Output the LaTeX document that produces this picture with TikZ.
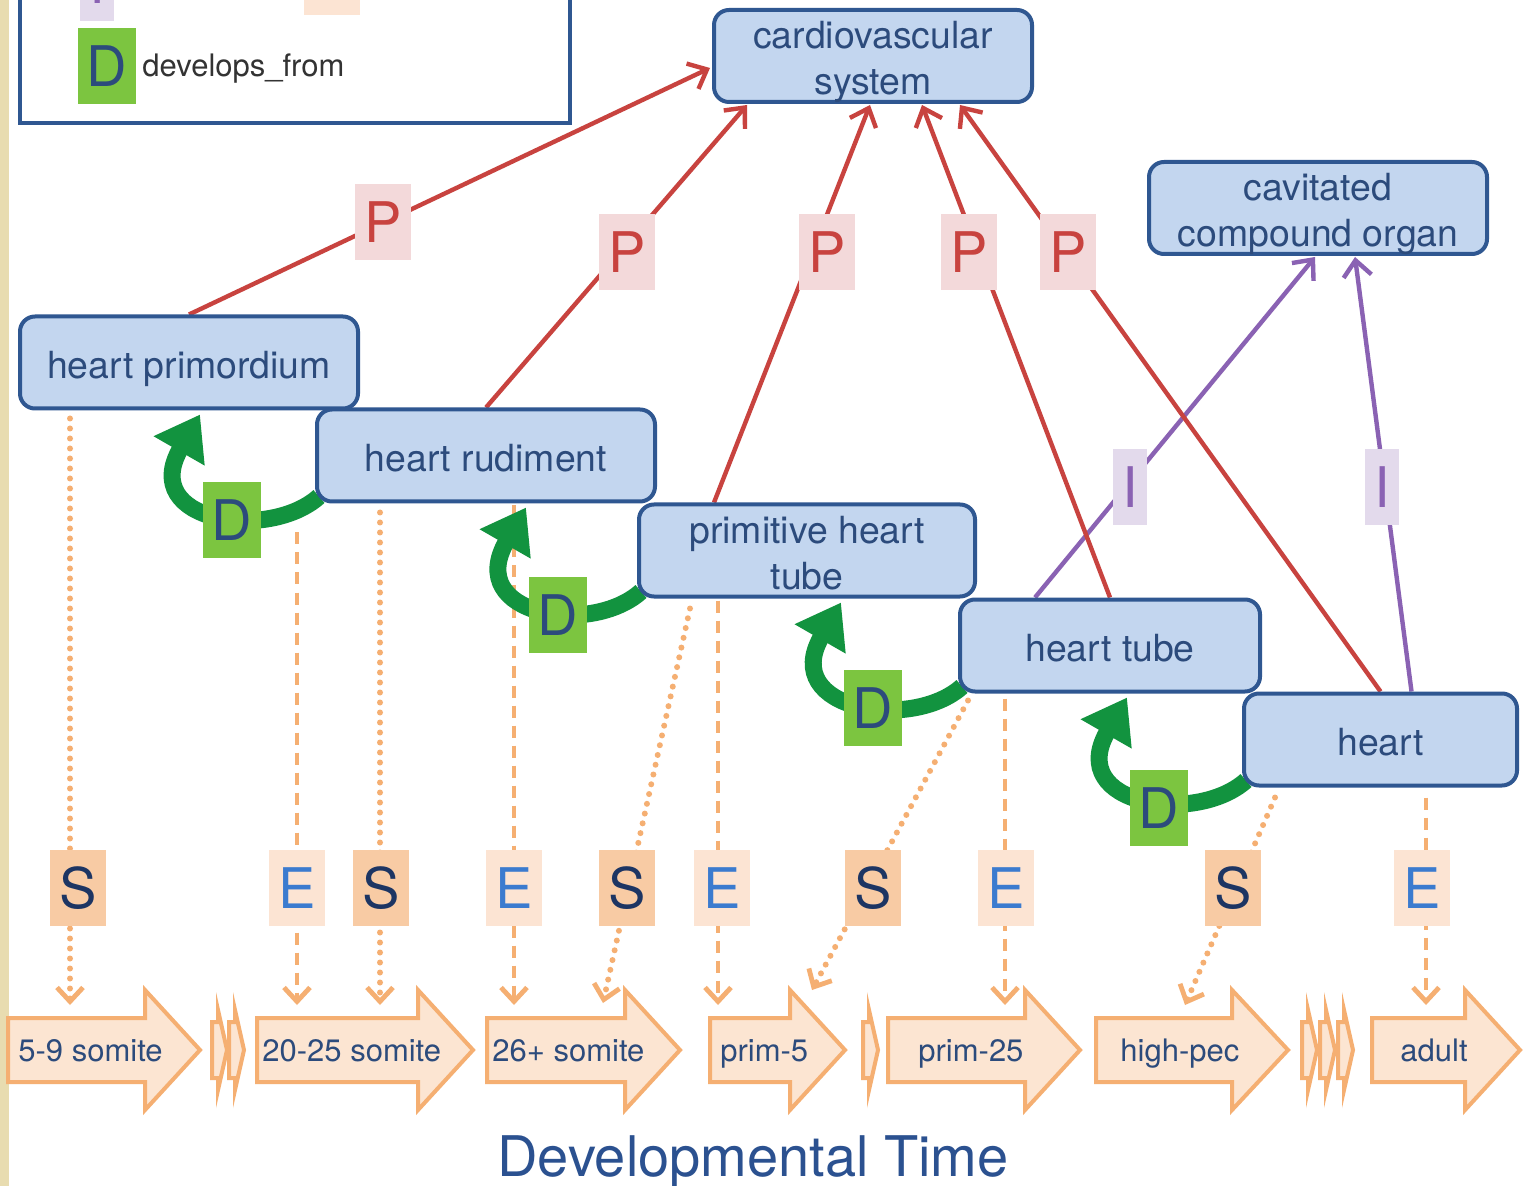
\documentclass[tikz,border=0pt]{standalone}
\usepackage{fontspec}
\setmainfont{TeX Gyre Heros}
\usetikzlibrary{arrows.meta,calc}

% palette
\definecolor{nodefill}{HTML}{C3D6EF}
\definecolor{nodeedge}{HTML}{2F5791}
\definecolor{nodetext}{HTML}{2C4B7C}
\definecolor{partred}{HTML}{C8433F}
\definecolor{partfill}{HTML}{F3D9DA}
\definecolor{isapurple}{HTML}{8A62B3}
\definecolor{isafill}{HTML}{E3DAEC}
\definecolor{devgreen}{HTML}{12933F}
\definecolor{devfill}{HTML}{7CC540}
\definecolor{stageorange}{HTML}{F5AF72}
\definecolor{stagefill}{HTML}{FCE5D2}
\definecolor{startfill}{HTML}{F8CBA4}
\definecolor{endfill}{HTML}{FCE4D3}
\definecolor{endtext}{HTML}{3B7BCF}
\definecolor{darknavy}{HTML}{1D3563}
\definecolor{titleblue}{HTML}{2B5190}
\definecolor{legendtext}{HTML}{333333}
\definecolor{parchment}{HTML}{E8DCB0}

\pgfdeclarelayer{bg}
\pgfdeclarelayer{stages}
\pgfdeclarelayer{edges}
\pgfdeclarelayer{arcs}
\pgfdeclarelayer{tags}
\pgfsetlayers{bg,stages,edges,arcs,main,tags}

\tikzset{
  termbox/.style={draw=nodeedge, line width=2pt, fill=nodefill, rounded corners=7.5pt,
    text=nodetext, font=\fontsize{18.7}{23}\selectfont, align=center,
    minimum height=46pt, inner sep=0pt, text height=16.4pt, text depth=0pt},
  twoline/.style={text height=38.5pt, text depth=0pt},
  reltag/.style={inner xsep=4.5pt, inner ysep=0pt, minimum height=38pt,
    font=\fontsize{28}{30}\selectfont},
  ptag/.style={reltag, fill=partfill, text=partred},
  itag/.style={reltag, fill=isafill, text=isapurple},
  dtag/.style={reltag, fill=devfill, text=nodetext},
  stag/.style={reltag, fill=startfill, text=darknavy},
  etag/.style={reltag, fill=endfill, text=endtext},
  partof/.style={draw=partred, line width=2.2pt, -{Straight Barb[length=8pt,width=14pt]}},
  isa/.style={draw=isapurple, line width=2.2pt, -{Straight Barb[length=8pt,width=14pt]}},
  devline/.style={draw=devgreen, line width=8.5pt, -{Triangle[length=21pt,width=28pt]}},
  startline/.style={draw=stageorange, line width=3pt, line cap=round,
    dash pattern=on 0pt off 5pt, -{Straight Barb[length=7pt,width=13pt,line width=2.4pt]}},
  endline/.style={draw=stageorange, line width=2.4pt,
    dash pattern=on 6pt off 4pt, -{Straight Barb[length=7pt,width=13pt]}},
  stagebox/.style={draw=stageorange, line width=2pt, fill=stagefill, line join=miter},
  stagetext/.style={text=nodetext, font=\fontsize{15.5}{18}\selectfont,
    anchor=base west, inner sep=0pt},
  legtext/.style={text=legendtext, font=\fontsize{15.5}{18}\selectfont, inner sep=0pt},
  legendframe/.style={draw=nodeedge, line width=2pt},
}

% block arrow of the time line: left end, head base, tip
\newcommand\stagearrow[3]{%
  \draw[stagebox] (#1,1018) -- (#2,1018) -- (#2,990) -- (#3,1050) -- (#2,1110)
    -- (#2,1082) -- (#1,1082) -- cycle;}
% narrow arrow marking skipped stages
\newcommand\stagetick[1]{%
  \draw[stagebox] (#1,1022) -- ++(6,0) -- ++(0,-12) -- ++(9,40) -- ++(-9,40)
    -- ++(0,-12) -- ++(-6,0) -- cycle;}
% develops_from arc: later term, earlier term, tag
\newcommand\devarc[3]{%
  \draw[devline] ($(#1.south west)+(4,-7)$) .. controls +(-50,45) and +(-62,108)
    .. ($(#3.center |- #2.south)+(-32,4)$);}

\begin{document}
\begin{tikzpicture}[x=0.5pt,y=-0.5pt]
\path[use as bounding box] (0,0) rectangle (1524,1186);

\begin{pgfonlayer}{bg}
  \fill[white] (0,0) rectangle (1524,1186);
  \fill[parchment] (0,0) rectangle (9,1186);
\end{pgfonlayer}

% legend
\begin{scope}
  \clip (0,0) rectangle (1524,1186);
  \draw[legendframe] (20,-200) rectangle (570,123);
  \node[itag] (legI) at (97,-17) {I};
  \node[legtext, anchor=base west] (legIt) at (142,-6.5) {is\_a};
  \node[etag] (legE) at (332,-23) {E};
  \node[dtag] (legD) at (107,66.5) {D};
  \node[legtext, anchor=base west] (legDt) at (142,77) {develops\_from};
\end{scope}

% anatomy terms
\node[termbox, twoline, minimum width=159pt] (cv) at (873,56) {cardiovascular\\system};
\node[termbox, twoline, minimum width=169pt] (cco) at (1318,208) {cavitated\\compound organ};
\node[termbox, minimum width=169pt] (hp) at (189,362.5) {heart primordium};
\node[termbox, minimum width=169pt] (hr) at (486,455.5) {heart rudiment};
\node[termbox, twoline, minimum width=168pt] (pht) at (807,550.5) {primitive heart\\tube};
\node[termbox, minimum width=150pt] (ht) at (1110,645.5) {heart tube};
\node[termbox, minimum width=136.5pt] (heart) at (1380.5,739.5) {heart};

% relation tags
\begin{pgfonlayer}{tags}
  \node[ptag] (p1) at (383,222) {P};
  \node[ptag] (p2) at (627,252) {P};
  \node[ptag] (p3) at (827,252) {P};
  \node[ptag] (p4) at (969,252) {P};
  \node[ptag] (p5) at (1068,252) {P};
  \node[itag] (i1) at (1130,487) {I};
  \node[itag] (i2) at (1382,487) {I};
  \node[dtag] (d1) at (232,520) {D};
  \node[dtag] (d2) at (558,615) {D};
  \node[dtag] (d3) at (873,708) {D};
  \node[dtag] (d4) at (1159,808) {D};
  \node[stag] (s1) at (78,888) {S};
  \node[etag] (e1) at (297,888) {E};
  \node[stag] (s2) at (381,888) {S};
  \node[etag] (e2) at (514,888) {E};
  \node[stag] (s3) at (627,888) {S};
  \node[etag] (e3) at (722,888) {E};
  \node[stag] (s4) at (873,888) {S};
  \node[etag] (e4) at (1006,888) {E};
  \node[stag] (s5) at (1233,888) {S};
  \node[etag] (e5) at (1422,888) {E};
\end{pgfonlayer}

% developmental time line
\begin{pgfonlayer}{stages}
  \stagearrow{8}{145}{200}
  \stagetick{212}\stagetick{229}
  \stagearrow{257}{418}{473}
  \stagearrow{487}{625}{680}
  \stagearrow{710}{790}{845}
  \stagetick{863}
  \stagearrow{888}{1025}{1080}
  \stagearrow{1096}{1232}{1288}
  \stagetick{1302}\stagetick{1320}\stagetick{1338}
  \stagearrow{1372}{1465}{1520}
  \node[stagetext] (g1) at (18,1061) {5-9 somite};
  \node[stagetext] (g2) at (262,1061) {20-25 somite};
  \node[stagetext] (g3) at (492,1061) {26+ somite};
  \node[stagetext] (g4) at (720,1061) {prim-5};
  \node[stagetext] (g5) at (918,1061) {prim-25};
  \node[stagetext] (g6) at (1120,1061) {high-pec};
  \node[stagetext] (g7) at (1400,1061) {adult};
  \node[text=titleblue, font=\fontsize{28}{32}\selectfont, anchor=base, inner sep=0pt]
    (axis) at (753,1176) {Developmental Time};
\end{pgfonlayer}

% stage entry points on the time line
\coordinate (ts1) at (70,1005);
\coordinate (te1) at (297,1005);
\coordinate (ts2) at (380,1005);
\coordinate (te2) at (514,1005);
\coordinate (ts3) at (603,1003);
\coordinate (te3) at (718,1005);
\coordinate (ts4) at (812,990);
\coordinate (te4) at (1005,1005);
\coordinate (ts5) at (1185,1005);
\coordinate (te5) at (1426,1005);

\begin{pgfonlayer}{edges}
  % start / end stages
  \draw[startline] ($(hp.south west)+(52,8)$) -- (ts1);
  \draw[endline] ($(hp.south)+(108,122)$) -- (te1);
  \draw[startline] ($(hr.south west)+(65,9)$) -- (ts2);
  \draw[endline] ($(hr.south)+(28,2)$) -- (te2);
  \draw[startline] ($(pht.south west)+(53,10)$) -- (ts3);
  \draw[endline] ($(pht.south west)+(81,2)$) -- (te3);
  \draw[startline] ($(ht.south west)+(10,7)$) -- (ts4);
  \draw[endline] ($(ht.south west)+(47,5)$) -- (te4);
  \draw[startline] ($(heart.south west)+(33,10)$) -- (ts5);
  \draw[endline] ($(heart.south west)+(184,10)$) -- (te5);
  % is_a
  \draw[isa] ($(ht.north)+(-75,0)$) -- ($(cco.south)+(-3,1)$);
  \draw[isa] ($(heart.north)+(31,0)$) -- ($(cco.south)+(37,1)$);
  % part_of
  \draw[partof] (hp.north) -- ($(cv.west)+(-2,12)$);
  \draw[partof] (hr.north) -- ($(cv.south)+(-126,1)$);
  \draw[partof] ($(pht.north)+(-93,0)$) -- ($(cv.south)+(-3,1)$);
  \draw[partof] (ht.north) -- ($(cv.south)+(49,1)$);
  \draw[partof] (heart.north) -- ($(cv.south)+(87,1)$);
\end{pgfonlayer}

% develops_from
\begin{pgfonlayer}{arcs}
  \devarc{hr}{hp}{d1}
  \devarc{pht}{hr}{d2}
  \devarc{ht}{pht}{d3}
  \devarc{heart}{ht}{d4}
\end{pgfonlayer}
\end{tikzpicture}
\end{document}
